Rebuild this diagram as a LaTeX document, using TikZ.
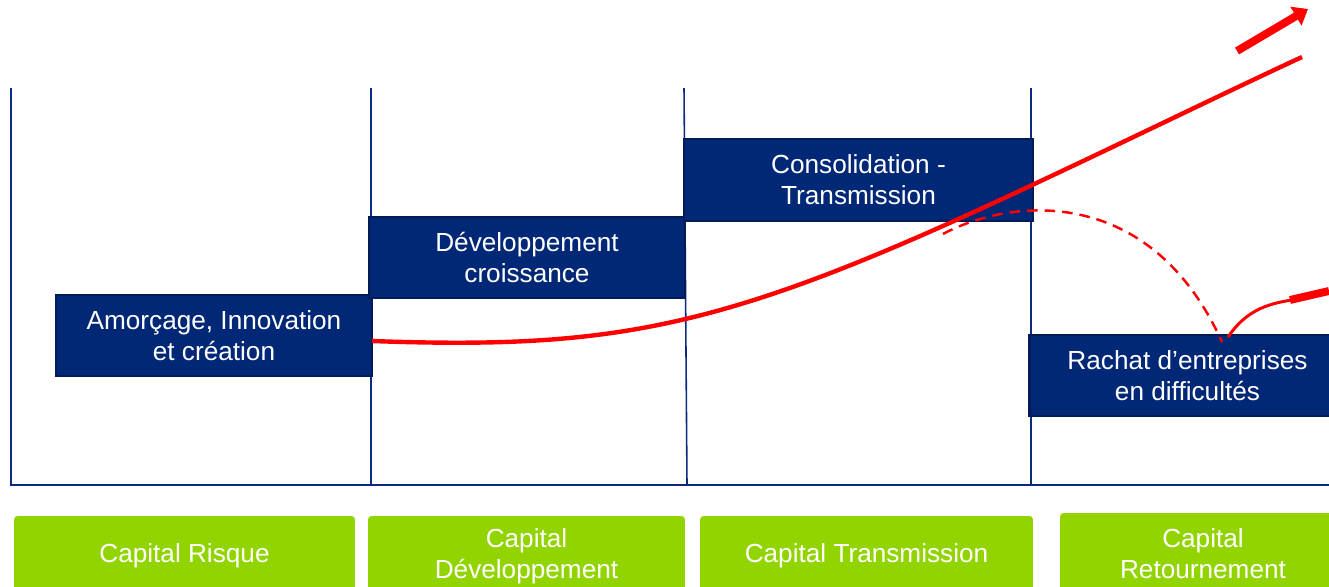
\documentclass[tikz,border=0pt]{standalone}
\usepackage{fontspec}
\setmainfont{Liberation Sans}
\usetikzlibrary{arrows.meta}
\definecolor{navy}{RGB}{0,40,118}
\definecolor{navyedge}{RGB}{0,27,88}
\definecolor{axisblue}{RGB}{12,42,128}
\definecolor{lime}{RGB}{146,212,0}
\def\boxfont{\fontsize{14.9}{17.6}\selectfont}
\tikzset{
	phase/.style={fill=navy, draw=navyedge, line width=1.6pt, text=white, align=center, inner sep=0pt, font=\boxfont},
	capital/.style={fill=lime, rounded corners=2pt, text=white, align=center, inner sep=0pt, font=\boxfont},
	divider/.style={draw=axisblue, line width=0.9pt},
	growth/.style={draw=red, line width=2.5pt}
}

\begin{document}
\begin{tikzpicture}[x=0.02cm, y=-0.02cm]
				\clip (0,0) rectangle (1329,586);
				
				\draw[divider] (371,88) -- (371,485);
				\draw[divider] (684,88) -- (687,485);
				\draw[divider] (1031,88) -- (1031,485);
				\draw[draw=axisblue, line width=1.4pt] (11,88) -- (11,485) -- (1329,485);
				
				\node[phase, minimum width=6.32cm, minimum height=1.62cm] (amorcage) at (214,335.5) {Amorçage, Innovation\\et création};
				\node[phase, minimum width=6.32cm, minimum height=1.62cm] (developpement) at (527,257.5) {Développement\\croissance};
				\node[phase, minimum width=6.98cm, minimum height=1.64cm] (consolidation) at (858.5,180) {Consolidation -\\Transmission};
				\node[phase, minimum width=6.32cm, minimum height=1.62cm] (rachat) at (1187.5,375.5) {Rachat d’entreprises\\en difficultés};
				
				\node[capital, minimum width=6.82cm, minimum height=1.6cm] (risque) at (184.5,556) {Capital Risque};
				\node[capital, minimum width=6.34cm, minimum height=1.6cm] (capdev) at (526.5,556) {Capital\\Développement};
				\node[capital, minimum width=6.66cm, minimum height=1.6cm] (transmission) at (866.5,556) {Capital Transmission};
				\node[capital, minimum width=5.72cm, minimum height=1.64cm] (retournement) at (1203,554) {Capital\\Retournement};
				
				\draw[growth] (372,341) .. controls (622,350) and (730,327) .. (1030,186) .. controls (1120,144) and (1220,95) .. (1302,57);
				\draw[red, line width=4.5pt, -{Triangle[length=8pt,width=12pt]}] (1237,51) -- (1308,9);
				
				\draw[red, line width=1.4pt, dash pattern=on 6pt off 4pt] (943,234) .. controls (1010,198) and (1150,183) .. (1222,342);
				\draw[red, line width=1.7pt] (1228,337) .. controls (1245,312) and (1265,304) .. (1292,300);
				\draw[red, line width=4.5pt] (1290,300) -- (1329,291);
			\end{tikzpicture}
\end{document}
